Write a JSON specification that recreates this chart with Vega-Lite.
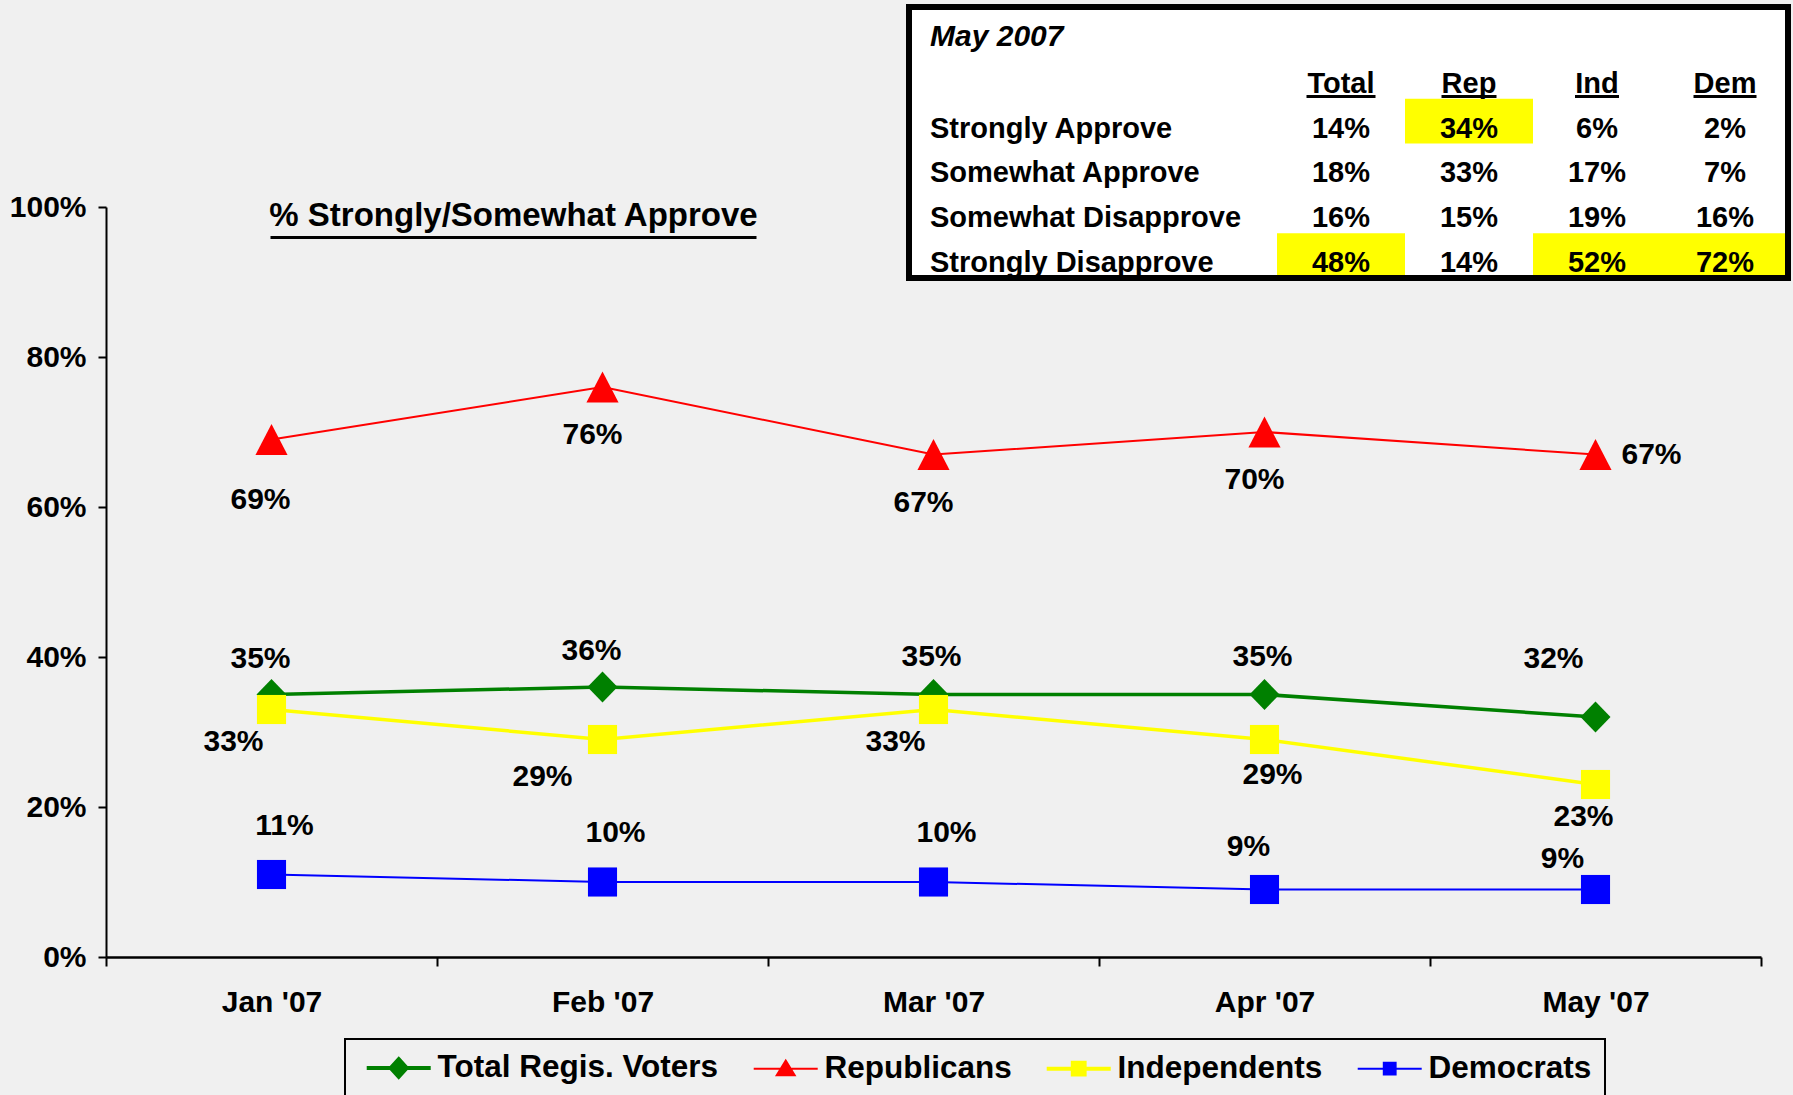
{
  "$schema": "https://vega.github.io/schema/vega-lite/v6.json",
  "width": 1655,
  "height": 750,
  "autosize": "none",
  "padding": {"left": 106, "top": 207, "right": 32, "bottom": 138},
  "background": "#F0F0F0",
  "config": {
    "view": {"stroke": null},
    "font": "Liberation Sans",
    "text": {"font": "Liberation Sans", "fontSize": 30, "fontWeight": "bold", "color": "black"},
    "axis": {"labelFont": "Liberation Sans", "labelFontWeight": "bold", "labelColor": "black", "labelFontSize": 30, "domainColor": "black", "tickColor": "black", "grid": false, "title": null},
    "legend": {"title": null, "orient": "none", "legendX": 239, "legendY": 832, "direction": "horizontal",
      "labelFont": "Liberation Sans", "labelFontSize": 31.5, "labelFontWeight": "bold", "labelColor": "black", "labelLimit": 0,
      "symbolSize": 1024, "labelOffset": 48, "columnPadding": 26, "padding": 13, "strokeColor": "black"}
  },
  "datasets": {
    "poll": [
      {"month": "Jan '07", "series": "Total Regis. Voters", "value": 0.35},
      {"month": "Feb '07", "series": "Total Regis. Voters", "value": 0.36},
      {"month": "Mar '07", "series": "Total Regis. Voters", "value": 0.35},
      {"month": "Apr '07", "series": "Total Regis. Voters", "value": 0.35},
      {"month": "May '07", "series": "Total Regis. Voters", "value": 0.32},
      {"month": "Jan '07", "series": "Republicans", "value": 0.69},
      {"month": "Feb '07", "series": "Republicans", "value": 0.76},
      {"month": "Mar '07", "series": "Republicans", "value": 0.67},
      {"month": "Apr '07", "series": "Republicans", "value": 0.70},
      {"month": "May '07", "series": "Republicans", "value": 0.67},
      {"month": "Jan '07", "series": "Independents", "value": 0.33},
      {"month": "Feb '07", "series": "Independents", "value": 0.29},
      {"month": "Mar '07", "series": "Independents", "value": 0.33},
      {"month": "Apr '07", "series": "Independents", "value": 0.29},
      {"month": "May '07", "series": "Independents", "value": 0.23},
      {"month": "Jan '07", "series": "Democrats", "value": 0.11},
      {"month": "Feb '07", "series": "Democrats", "value": 0.10},
      {"month": "Mar '07", "series": "Democrats", "value": 0.10},
      {"month": "Apr '07", "series": "Democrats", "value": 0.09},
      {"month": "May '07", "series": "Democrats", "value": 0.09}
    ],
    "cells": [
      {"row": "Strongly Approve", "col": "Total", "value": 0.14, "highlight": false},
      {"row": "Strongly Approve", "col": "Rep", "value": 0.34, "highlight": true},
      {"row": "Strongly Approve", "col": "Ind", "value": 0.06, "highlight": false},
      {"row": "Strongly Approve", "col": "Dem", "value": 0.02, "highlight": false},
      {"row": "Somewhat Approve", "col": "Total", "value": 0.18, "highlight": false},
      {"row": "Somewhat Approve", "col": "Rep", "value": 0.33, "highlight": false},
      {"row": "Somewhat Approve", "col": "Ind", "value": 0.17, "highlight": false},
      {"row": "Somewhat Approve", "col": "Dem", "value": 0.07, "highlight": false},
      {"row": "Somewhat Disapprove", "col": "Total", "value": 0.16, "highlight": false},
      {"row": "Somewhat Disapprove", "col": "Rep", "value": 0.15, "highlight": false},
      {"row": "Somewhat Disapprove", "col": "Ind", "value": 0.19, "highlight": false},
      {"row": "Somewhat Disapprove", "col": "Dem", "value": 0.16, "highlight": false},
      {"row": "Strongly Disapprove", "col": "Total", "value": 0.48, "highlight": true},
      {"row": "Strongly Disapprove", "col": "Rep", "value": 0.14, "highlight": false},
      {"row": "Strongly Disapprove", "col": "Ind", "value": 0.52, "highlight": true},
      {"row": "Strongly Disapprove", "col": "Dem", "value": 0.72, "highlight": true}
    ],
    "headers": [{"col": "Total"}, {"col": "Rep"}, {"col": "Ind"}, {"col": "Dem"}],
    "tableTitle": [{"row": "May 2007"}],
    "chartTitle": [{"title": "% Strongly/Somewhat Approve"}]
  },
  "layer": [
    {
      "data": {"name": "poll"},
      "encoding": {
        "x": {"field": "month", "type": "nominal", "sort": null,
          "scale": {"domain": ["Jan '07", "Feb '07", "Mar '07", "Apr '07", "May '07"], "paddingInner": 0, "paddingOuter": 0},
          "axis": {"labelAngle": 0, "tickBand": "extent", "tickSize": 9, "tickWidth": 2, "domainWidth": 2.5, "labelPadding": 21}},
        "y": {"field": "value", "type": "quantitative",
          "scale": {"domain": [0, 1], "nice": false},
          "axis": {"values": [0, 0.2, 0.4, 0.6, 0.8, 1], "format": ".0%", "tickSize": 8, "tickWidth": 2, "domainWidth": 2, "labelPadding": 12}},
        "color": {"field": "series", "type": "nominal",
          "scale": {"domain": ["Total Regis. Voters", "Republicans", "Independents", "Democrats"], "range": ["#008000", "#FF0000", "#FFFF00", "#0000FF"]},
          "legend": {
            "encode": {
              "legend": {"update": {"strokeWidth": {"value": 2}}},
              "symbols": {"update": {
                "shape": {"signal": "datum.value === 'Total Regis. Voters' ? 'M-0.44,0H3.56M1.56,-0.55L2.06,0L1.56,0.55L1.06,0Z' : datum.value === 'Republicans' ? 'M-0.44,0H3.56M1.56,-0.5L2.12,0.42L1,0.42Z' : 'M-0.44,0H3.56M1.19,-0.37H1.93V0.37H1.19Z'"},
                "fill": {"signal": "datum.value === 'Total Regis. Voters' ? '#008000' : datum.value === 'Republicans' ? '#FF0000' : datum.value === 'Independents' ? '#FFFF00' : '#0000FF'"},
                "stroke": {"signal": "datum.value === 'Total Regis. Voters' ? '#008000' : datum.value === 'Republicans' ? '#FF0000' : datum.value === 'Independents' ? '#FFFF00' : '#0000FF'"},
                "strokeWidth": {"signal": "datum.value === 'Total Regis. Voters' || datum.value === 'Independents' ? 4 : 2"},
                "opacity": {"value": 1}, "fillOpacity": {"value": 1}, "strokeOpacity": {"value": 1}
              }}
            }
          }}
      },
      "layer": [
        {"transform": [{"filter": {"field": "series", "oneOf": ["Total Regis. Voters", "Independents"]}}],
         "mark": {"type": "line", "strokeWidth": 3.5}},
        {"transform": [{"filter": {"field": "series", "oneOf": ["Republicans", "Democrats"]}}],
         "mark": {"type": "line", "strokeWidth": 2}},
        {"transform": [{"filter": {"field": "series", "equal": "Total Regis. Voters"}}],
         "mark": {"type": "point", "filled": true, "opacity": 1, "size": 900, "shape": "M0,-1.03L1,0L0,1.03L-1,0Z"}},
        {"transform": [{"filter": {"field": "series", "equal": "Republicans"}}],
         "mark": {"type": "point", "filled": true, "opacity": 1, "size": 900, "shape": "M0,-1.03L1.07,1.03L-1.07,1.03Z"}},
        {"transform": [{"filter": {"field": "series", "oneOf": ["Independents", "Democrats"]}}],
         "mark": {"type": "point", "filled": true, "opacity": 1, "size": 900, "shape": "M-0.97,-0.97H0.97V0.97H-0.97Z"}},
        {"transform": [{"filter": {"and": [{"field": "series", "equal": "Total Regis. Voters"}, {"field": "month", "oneOf": ["Jan '07", "Feb '07"]}]}}],
         "mark": {"type": "text", "dx": -11, "dy": -36}, "encoding": {"color": {"value": "black"}, "text": {"field": "value", "format": ".0%"}}},
        {"transform": [{"filter": {"and": [{"field": "series", "equal": "Total Regis. Voters"}, {"field": "month", "oneOf": ["Mar '07", "Apr '07"]}]}}],
         "mark": {"type": "text", "dx": -2, "dy": -38}, "encoding": {"color": {"value": "black"}, "text": {"field": "value", "format": ".0%"}}},
        {"transform": [{"filter": {"and": [{"field": "series", "equal": "Total Regis. Voters"}, {"field": "month", "oneOf": ["May '07"]}]}}],
         "mark": {"type": "text", "dx": -42, "dy": -58}, "encoding": {"color": {"value": "black"}, "text": {"field": "value", "format": ".0%"}}},
        {"transform": [{"filter": {"and": [{"field": "series", "equal": "Republicans"}, {"field": "month", "oneOf": ["Jan '07"]}]}}],
         "mark": {"type": "text", "dx": -11, "dy": 60}, "encoding": {"color": {"value": "black"}, "text": {"field": "value", "format": ".0%"}}},
        {"transform": [{"filter": {"and": [{"field": "series", "equal": "Republicans"}, {"field": "month", "oneOf": ["Feb '07", "Mar '07", "Apr '07"]}]}}],
         "mark": {"type": "text", "dx": -10, "dy": 48}, "encoding": {"color": {"value": "black"}, "text": {"field": "value", "format": ".0%"}}},
        {"transform": [{"filter": {"and": [{"field": "series", "equal": "Republicans"}, {"field": "month", "oneOf": ["May '07"]}]}}],
         "mark": {"type": "text", "dx": 56, "dy": 0}, "encoding": {"color": {"value": "black"}, "text": {"field": "value", "format": ".0%"}}},
        {"transform": [{"filter": {"and": [{"field": "series", "equal": "Independents"}, {"field": "month", "oneOf": ["Jan '07", "Mar '07"]}]}}],
         "mark": {"type": "text", "dx": -38, "dy": 32}, "encoding": {"color": {"value": "black"}, "text": {"field": "value", "format": ".0%"}}},
        {"transform": [{"filter": {"and": [{"field": "series", "equal": "Independents"}, {"field": "month", "oneOf": ["Feb '07"]}]}}],
         "mark": {"type": "text", "dx": -60, "dy": 37}, "encoding": {"color": {"value": "black"}, "text": {"field": "value", "format": ".0%"}}},
        {"transform": [{"filter": {"and": [{"field": "series", "equal": "Independents"}, {"field": "month", "oneOf": ["Apr '07"]}]}}],
         "mark": {"type": "text", "dx": 8, "dy": 35}, "encoding": {"color": {"value": "black"}, "text": {"field": "value", "format": ".0%"}}},
        {"transform": [{"filter": {"and": [{"field": "series", "equal": "Independents"}, {"field": "month", "oneOf": ["May '07"]}]}}],
         "mark": {"type": "text", "dx": -12, "dy": 32}, "encoding": {"color": {"value": "black"}, "text": {"field": "value", "format": ".0%"}}},
        {"transform": [{"filter": {"and": [{"field": "series", "equal": "Democrats"}, {"field": "month", "oneOf": ["Jan '07", "Feb '07", "Mar '07"]}]}}],
         "mark": {"type": "text", "dx": 13, "dy": -49}, "encoding": {"color": {"value": "black"}, "text": {"field": "value", "format": ".0%"}}},
        {"transform": [{"filter": {"and": [{"field": "series", "equal": "Democrats"}, {"field": "month", "oneOf": ["Apr '07"]}]}}],
         "mark": {"type": "text", "dx": -16, "dy": -43}, "encoding": {"color": {"value": "black"}, "text": {"field": "value", "format": ".0%"}}},
        {"transform": [{"filter": {"and": [{"field": "series", "equal": "Democrats"}, {"field": "month", "oneOf": ["May '07"]}]}}],
         "mark": {"type": "text", "dx": -33, "dy": -31}, "encoding": {"color": {"value": "black"}, "text": {"field": "value", "format": ".0%"}}}
      ]
    },
    {
      "layer": [
        {
          "data": {"name": "tableTitle"},
          "mark": {"type": "rect", "fill": "white"},
          "encoding": {
            "x": {"datum": "box", "type": "nominal", "scale": {"type": "band", "domain": ["box"], "range": [803, 1682], "paddingInner": 0, "paddingOuter": 0}, "axis": null},
            "y": {"datum": "box", "type": "nominal", "scale": {"type": "band", "domain": ["box"], "range": [-200, 71], "paddingInner": 0, "paddingOuter": 0}, "axis": null}
          }
        },
        {
          "data": {"name": "chartTitle"},
          "layer": [
            {"mark": {"type": "text", "baseline": "alphabetic", "fontSize": 33},
             "encoding": {
               "x": {"field": "title", "type": "nominal", "scale": {"type": "band", "domain": ["% Strongly/Somewhat Approve"], "range": [165, 650], "paddingInner": 0, "paddingOuter": 0}, "axis": null},
               "y": {"field": "title", "type": "nominal", "bandPosition": 0.58, "scale": {"type": "band", "domain": ["% Strongly/Somewhat Approve"], "range": [0, 32], "paddingInner": 0, "paddingOuter": 0}, "axis": null},
               "text": {"field": "title"}}},
            {"mark": {"type": "tick", "orient": "horizontal", "size": 486, "thickness": 3, "color": "black", "opacity": 1},
             "encoding": {
               "x": {"field": "title", "type": "nominal", "scale": {"type": "band", "domain": ["% Strongly/Somewhat Approve"], "range": [165, 650], "paddingInner": 0, "paddingOuter": 0}, "axis": null},
               "y": {"field": "title", "type": "nominal", "bandPosition": 0.95, "scale": {"type": "band", "domain": ["% Strongly/Somewhat Approve"], "range": [0, 32], "paddingInner": 0, "paddingOuter": 0}, "axis": null}}}
          ]
        },
        {
          "layer": [
            {"data": {"name": "cells"},
             "transform": [{"filter": {"field": "highlight", "equal": true}}],
             "mark": {"type": "rect", "fill": "#FFFF00"},
             "encoding": {
               "x": {"field": "col", "type": "nominal", "scale": {"type": "band", "domain": ["Total", "Rep", "Ind", "Dem"], "range": [1171, 1683], "paddingInner": 0, "paddingOuter": 0}, "axis": null},
               "y": {"field": "row", "type": "nominal", "scale": {"type": "band", "domain": ["May 2007", "Group", "Strongly Approve", "Somewhat Approve", "Somewhat Disapprove", "Strongly Disapprove"], "range": [-198, 71], "paddingInner": 0, "paddingOuter": 0}, "axis": null}}},
            {"data": {"name": "cells"},
             "mark": {"type": "text", "baseline": "bottom", "fontSize": 29},
             "encoding": {
               "x": {"field": "col", "type": "nominal", "scale": {"type": "band", "domain": ["Total", "Rep", "Ind", "Dem"], "range": [1171, 1683], "paddingInner": 0, "paddingOuter": 0}, "axis": null},
               "y": {"field": "row", "type": "nominal", "bandPosition": 1, "scale": {"type": "band", "domain": ["May 2007", "Group", "Strongly Approve", "Somewhat Approve", "Somewhat Disapprove", "Strongly Disapprove"], "range": [-198, 71], "paddingInner": 0, "paddingOuter": 0}, "axis": null},
               "text": {"field": "value", "format": ".0%"}}},
            {"data": {"name": "headers"},
             "mark": {"type": "text", "baseline": "bottom", "fontSize": 29},
             "encoding": {
               "x": {"field": "col", "type": "nominal", "scale": {"type": "band", "domain": ["Total", "Rep", "Ind", "Dem"], "range": [1171, 1683], "paddingInner": 0, "paddingOuter": 0}, "axis": null},
               "y": {"datum": "Group", "type": "nominal", "bandPosition": 1, "axis": null},
               "text": {"field": "col"}}},
            {"data": {"name": "tableTitle"},
             "mark": {"type": "tick", "orient": "horizontal", "size": 69, "thickness": 3, "color": "black", "opacity": 1},
             "encoding": {"x": {"datum": "Total", "type": "nominal", "axis": null}, "y": {"datum": "Group", "type": "nominal", "bandPosition": 0.95, "axis": null}}},
            {"data": {"name": "tableTitle"},
             "mark": {"type": "tick", "orient": "horizontal", "size": 55, "thickness": 3, "color": "black", "opacity": 1},
             "encoding": {"x": {"datum": "Rep", "type": "nominal", "axis": null}, "y": {"datum": "Group", "type": "nominal", "bandPosition": 0.95, "axis": null}}},
            {"data": {"name": "tableTitle"},
             "mark": {"type": "tick", "orient": "horizontal", "size": 44, "thickness": 3, "color": "black", "opacity": 1},
             "encoding": {"x": {"datum": "Ind", "type": "nominal", "axis": null}, "y": {"datum": "Group", "type": "nominal", "bandPosition": 0.95, "axis": null}}},
            {"data": {"name": "tableTitle"},
             "mark": {"type": "tick", "orient": "horizontal", "size": 63, "thickness": 3, "color": "black", "opacity": 1},
             "encoding": {"x": {"datum": "Dem", "type": "nominal", "axis": null}, "y": {"datum": "Group", "type": "nominal", "bandPosition": 0.95, "axis": null}}}
          ]
        },
        {
          "layer": [
            {"data": {"name": "cells"},
             "transform": [{"filter": {"field": "col", "equal": "Total"}}],
             "mark": {"type": "text", "align": "left", "baseline": "bottom", "fontSize": 29},
             "encoding": {
               "x": {"datum": "labels", "type": "nominal", "scale": {"type": "band", "domain": ["labels"], "range": [814, 834], "paddingInner": 0, "paddingOuter": 0}, "axis": null},
               "y": {"field": "row", "type": "nominal", "bandPosition": 1, "scale": {"type": "band", "domain": ["May 2007", "Group", "Strongly Approve", "Somewhat Approve", "Somewhat Disapprove", "Strongly Disapprove"], "range": [-198, 71], "paddingInner": 0, "paddingOuter": 0}, "axis": null},
               "text": {"field": "row"}}},
            {"data": {"name": "tableTitle"},
             "mark": {"type": "text", "align": "left", "baseline": "bottom", "fontSize": 30, "fontStyle": "italic"},
             "encoding": {
               "x": {"datum": "labels", "type": "nominal", "scale": {"type": "band", "domain": ["labels"], "range": [814, 834], "paddingInner": 0, "paddingOuter": 0}, "axis": null},
               "y": {"field": "row", "type": "nominal", "bandPosition": 0.97, "scale": {"type": "band", "domain": ["May 2007", "Group", "Strongly Approve", "Somewhat Approve", "Somewhat Disapprove", "Strongly Disapprove"], "range": [-198, 71], "paddingInner": 0, "paddingOuter": 0}, "axis": null},
               "text": {"field": "row"}}}
          ]
        },
        {
          "data": {"name": "tableTitle"},
          "mark": {"type": "rect", "fillOpacity": 0, "stroke": "black", "strokeWidth": 6},
          "encoding": {
            "x": {"datum": "box", "type": "nominal", "scale": {"type": "band", "domain": ["box"], "range": [803, 1682], "paddingInner": 0, "paddingOuter": 0}, "axis": null},
            "y": {"datum": "box", "type": "nominal", "scale": {"type": "band", "domain": ["box"], "range": [-200, 71], "paddingInner": 0, "paddingOuter": 0}, "axis": null}
          }
        }
      ],
      "resolve": {"scale": {"x": "independent", "y": "independent"}}
    }
  ],
  "resolve": {"scale": {"x": "independent", "y": "independent"}}
}
